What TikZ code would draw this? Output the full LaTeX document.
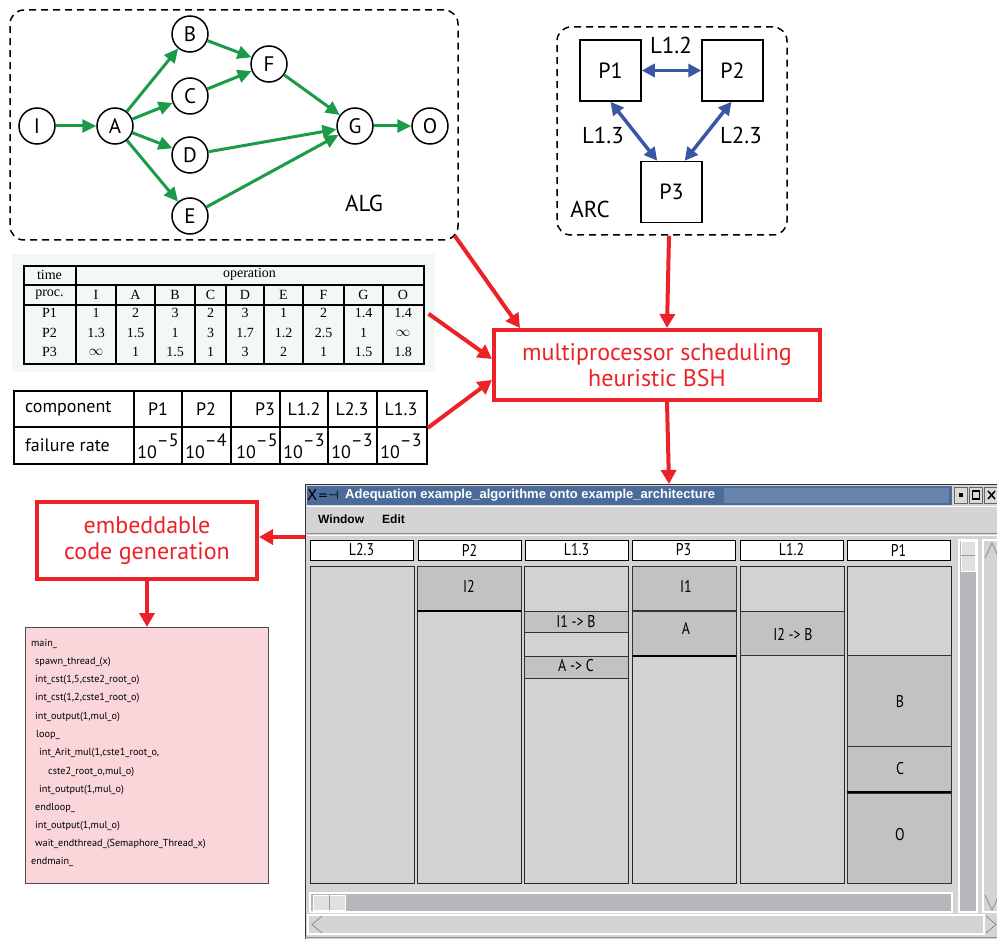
\documentclass[tikz,border=0pt]{standalone}
\usepackage{fontspec}
\setmainfont{PT Sans}
\newfontfamily\serifface{Liberation Serif}
\newfontfamily\uiface{Liberation Sans}
\newfontfamily\narrowface[FakeStretch=0.82]{PT Sans}
\newfontfamily\symface{DejaVu Sans}
\usetikzlibrary{arrows.meta,calc}
\definecolor{grn}{HTML}{1B9A48}
\definecolor{blu}{HTML}{3A56A5}
\definecolor{rd}{HTML}{EC2227}
\definecolor{tabbg}{HTML}{F2F8F3}
\definecolor{codebg}{HTML}{FAD6DA}
\definecolor{wingray}{HTML}{D4D4D4}
\definecolor{colgray}{HTML}{D1D2D4}
\definecolor{blkgray}{HTML}{C3C1C4}
\definecolor{titleblue}{HTML}{4B6B9A}
\definecolor{titledots}{HTML}{6884AD}
\definecolor{barshade}{HTML}{B5B7BB}
\newcommand\fsz[1]{\fontsize{#1}{#1}\selectfont}
\begin{document}
\begin{tikzpicture}[x=1pt,y=-1pt,
  vtx/.style={circle,draw,line width=1.5pt,minimum size=36pt,inner sep=0pt,font=\fsz{21}},
  pbox/.style={rectangle,draw,line width=1.5pt,minimum size=61pt,inner sep=0pt,font=\fsz{22}},
  dashbox/.style={rectangle,draw,line width=1.5pt,dash pattern=on 7pt off 5pt,rounded corners=14pt,inner sep=0pt},
  garr/.style={draw=grn,line width=3pt,-{Triangle[length=14pt,width=13pt]}},
  barr/.style={draw=blu,line width=3.5pt,{Triangle[length=13pt,width=13pt]}-{Triangle[length=13pt,width=13pt]}},
  rarr/.style={draw=rd,line width=4pt,-{Triangle[length=14pt,width=15pt]}},
  redbox/.style={rectangle,draw=rd,line width=4pt,text=rd,align=center,inner sep=0pt},
  lbl/.style={font=\fsz{23},inner sep=0pt},
  tcell/.style={font=\serifface\fsz{14},inner sep=0pt},
  fcell/.style={font=\fsz{18},inner sep=0pt},
  codeline/.style={font=\fsz{10.2},anchor=west,inner sep=0pt},
  hdcell/.style={draw=black,line width=0.8pt,fill=white,minimum width=103pt,minimum height=20pt,inner sep=0pt,font=\narrowface\fsz{17}},
  colbox/.style={draw=black!85,line width=1pt,fill=colgray},
  blk/.style={draw=black!80,line width=1pt,fill=blkgray},
  blktxt/.style={font=\narrowface\fsz{17},inner sep=0pt},
  uitxt/.style={font=\uiface\bfseries\fsz{12},inner sep=0pt,anchor=west}]
\useasboundingbox (0,0) rectangle (997,939);

% ---------------- algorithm graph ----------------
\node[dashbox,minimum width=448pt,minimum height=230pt] (alg) at (234,125) {};
\node[vtx] (I) at (37,126) {I};
\node[vtx] (A) at (115,126) {A};
\node[vtx] (B) at (190,34) {B};
\node[vtx] (C) at (190,96) {C};
\node[vtx] (D) at (190,155) {D};
\node[vtx] (E) at (190,216) {E};
\node[vtx] (F) at (269,64) {F};
\node[vtx] (G) at (355,126) {G};
\node[vtx] (O) at (430,126) {O};
\draw[garr] (I) -- (A);
\draw[garr] (A) -- (B);
\draw[garr] (A) -- (C);
\draw[garr] (A) -- (D);
\draw[garr] (A) -- (E);
\draw[garr] (B) -- (F);
\draw[garr] (C) -- (F);
\draw[garr] (F) -- (G);
\draw[garr] (D) -- (G);
\draw[garr] (E) -- (G);
\draw[garr] (G) -- (O);
\node[lbl] (alglbl) at (364,203) {ALG};

% ---------------- architecture graph ----------------
\node[dashbox,minimum width=230pt,minimum height=208pt] (arc) at (672,131) {};
\node[pbox] (P1) at (610.5,70.5) {P1};
\node[pbox] (P2) at (732.5,70.5) {P2};
\node[pbox] (P3) at (671.5,192) {P3};
\draw[barr] (P1) -- (P2);
\draw[barr] (P1.south) -- ($(P3.north west)+(17,0)$);
\draw[barr] ($(P2.south)+(-1,0)$) -- ($(P3.north east)+(-18,0)$);
\node[lbl] (l12) at (671,45) {L1.2};
\node[lbl] (l13) at (603,135) {L1.3};
\node[lbl] (l23) at (741,135) {L2.3};
\node[lbl] (arclbl) at (590,209) {ARC};

% ---------------- execution time table ----------------
\fill[tabbg] (12,254) rectangle (435,372);
\node[draw,line width=1.6pt,minimum width=400pt,minimum height=98pt,inner sep=0pt,anchor=north west] (tab1) at (23,265) {};
\draw[line width=1.6pt] (76,265) -- (76,363);
\draw[line width=1.6pt] (23,285) -- (423,285) (23,305) -- (423,305);
\foreach \xl in {116,155,195,226,264,303,344,383}
  \draw[line width=1.6pt] (\xl,285) -- (\xl,363);
\node[tcell] at (49.5,275) {time};
\node[tcell] at (249.5,274) {operation};
\node[tcell] at (49.5,295) {proc.};
\foreach \xc/\t in {96/I,135.5/A,175/B,210.5/C,245/D,283.5/E,323.5/F,363.5/G,403/O}
  \node[tcell] at (\xc,295) {\t};
\node[tcell] at (49.5,313) {P1};
\node[tcell] at (49.5,333) {P2};
\node[tcell] at (49.5,352) {P3};
\foreach \xc/\t in {96/1,135.5/2,175/3,210.5/2,245/3,283.5/1,323.5/2,363.5/1.4,403/1.4}
  \node[tcell] at (\xc,313) {\t};
\foreach \xc/\t in {96/1.3,135.5/1.5,175/1,210.5/3,245/1.7,283.5/1.2,323.5/2.5,363.5/1,403/$\infty$}
  \node[tcell] at (\xc,333) {\t};
\foreach \xc/\t in {96/$\infty$,135.5/1,175/1.5,210.5/1,245/3,283.5/2,323.5/1,363.5/1.5,403/1.8}
  \node[tcell] at (\xc,352) {\t};

% ---------------- failure rate table ----------------
\node[draw,line width=1.8pt,minimum width=413pt,minimum height=73pt,inner sep=0pt,anchor=north west] (tab2) at (13,390) {};
\draw[line width=1.8pt] (13,427) -- (426,427);
\foreach \xl in {134,182,231,280,328,377}
  \draw[line width=1.8pt] (\xl,390) -- (\xl,463);
\node[fcell,anchor=west] at (25,409) {component};
\node[fcell,anchor=west] at (25,445) {failure rate};
\foreach \xc/\t in {158/P1,206/P2,265/P3,304/L1.2,352/L2.3,401/L1.3}
  \node[fcell] at (\xc,409) {\t};
\foreach \xc/\e in {158/5,206/4,257/5,304/3,352/3,401/3}
  \node[fcell,anchor=base] at (\xc,458) {10\raisebox{0.62em}{–\e}};

% ---------------- scheduling heuristic ----------------
\node[redbox,minimum width=326pt,minimum height=70pt,font=\fsz{24}] (bsh) at (657,365)
  {multiprocessor scheduling\\[2pt]heuristic BSH};
\draw[rarr] ($(alg.south east)+(-4,-5)$) -- ($(bsh.north west)+(28,0)$);
\draw[rarr] ($(arc.south)+(-3,0)$) -- ($(bsh.north west)+(175,0)$);
\draw[rarr] ($(tab1.east)+(4,-1)$) -- ($(bsh.west)+(0,-6)$);
\draw[rarr] ($(tab2.east)+(0,0.5)$) -- ($(bsh.west)+(0,15)$);

% ---------------- adequation window ----------------
\coordinate (wintop) at (669,484);
\coordinate (winleft) at (305,537);
\fill[wingray] (305,484) rectangle (997,939);
\draw[black!80,line width=1.5pt] (305.5,939) -- (305.5,484.5) -- (997,484.5);
% title bar
\fill[titleblue] (307,486) rectangle (952,505);
\fill[titledots] (724,488) rectangle (949,503);
\node[inner sep=0pt,anchor=west,font=\symface\fsz{15}] (xicon) at (307,495) {X};
\node[inner sep=0pt,anchor=west,font=\symface\fsz{12}] (pin) at (318,495) {=⊣};
\node[uitxt,text=white,font=\uiface\bfseries\fsz{13}] (wtitle) at (345,495.5) {Adequation example\_algorithme onto example\_architecture};
\foreach \bx in {954,969,984}
  \draw[black!60,fill=black!15,line width=0.6pt] (\bx,487) rectangle ++(13,16);
\fill[black] (958.5,493) rectangle (962.5,497);
\draw[black,line width=1.5pt] (972.5,491) rectangle (979.5,499);
\draw[black,line width=1.5pt] (988,491) -- (995,499) (988,499) -- (995,491);
% menu bar
\draw[white,line width=1pt] (307,506) -- (997,506);
\draw[black!45,line width=1pt] (307,533) -- (997,533);
\draw[white,line width=1pt] (307,535) -- (997,535);
\node[uitxt,font=\uiface\bfseries\fsz{12}] (mwin) at (318,519.5) {Window};
\node[uitxt,font=\uiface\bfseries\fsz{12}] (medit) at (382,519.5) {Edit};
% column headers
\node[hdcell] (h1) at (361.5,550) {L2.3};
\node[hdcell] (h2) at (469.5,550) {P2};
\node[hdcell] (h3) at (576.5,550) {L1.3};
\node[hdcell] (h4) at (683.5,550) {P3};
\node[hdcell] (h5) at (791.5,550) {L1.2};
\node[hdcell] (h6) at (898.5,550) {P1};
% columns
\foreach \xl in {310,417,524,632,740,847}
  \draw[colbox] (\xl,566) rectangle ++(104,317);
% scheduled blocks
\draw[blk] (417,566) rectangle (521,610);
\draw[line width=2.2pt] (417,611) -- (521,611);
\node[blktxt] at (469,586) {I2};
\draw[blk] (524,611) rectangle (628,632);
\node[blktxt] at (576,622) {I1 -{}> B};
\draw[blk] (524,656) rectangle (628,678);
\node[blktxt] at (576,666) {A -{}> C};
\draw[blk] (632,566) rectangle (736,610);
\node[blktxt] at (686,586) {I1};
\draw[blk] (632,611) rectangle (736,655);
\draw[line width=2.2pt] (632,656) -- (736,656);
\node[blktxt] at (686,628) {A};
\draw[blk] (740,611) rectangle (844,655);
\node[blktxt] at (793,635) {I2 -{}> B};
\draw[blk] (847,655) rectangle (951,746);
\node[blktxt] at (900,702) {B};
\draw[blk] (847,746) rectangle (951,792);
\draw[line width=2.2pt] (847,792) -- (951,792);
\node[blktxt] at (900,769) {C};
\draw[blk] (847,793) rectangle (951,883);
\node[blktxt] at (900,835) {O};
% horizontal scrollbar
\draw[fill=barshade,draw=white,line width=1.2pt] (310,893) rectangle (952,912);
\draw[fill=black!12,draw=white,line width=1pt] (313,895) rectangle (345,910);
\draw[black!40,line width=0.8pt] (329,895) -- (329,910);
\draw[fill=black!17,draw=white,line width=1.2pt] (308,915) rectangle (984,934);
\draw[black!45,line width=0.8pt] (322,916) -- (312,924.5) -- (322,933);
\draw[black!45,line width=0.8pt] (986,916) -- (996,924.5) -- (986,933);
\draw[black!45,line width=1pt] (305,937) -- (997,937);
% vertical scrollbars
\draw[fill=barshade,draw=white,line width=1.2pt] (959,540) rectangle (977,912);
\draw[fill=black!12,draw=white,line width=1pt] (961,541) rectangle (975,571);
\draw[black!40,line width=0.8pt] (961,555) -- (975,555);
\draw[fill=black!17,draw=white,line width=1.2pt] (983,540) rectangle (999,912);
\draw[black!45,line width=0.8pt] (985,558) -- (992,543) -- (999,558);
\draw[black!45,line width=0.8pt] (985,895) -- (992,910) -- (999,895);
% arrow into the window
\draw[rarr] ($(bsh.south west)+(175,0)$) -- (wintop);

% ---------------- code generation ----------------
\node[redbox,minimum width=220pt,minimum height=77pt,font=\fsz{24}] (emb) at (147,540.5)
  {embeddable\\[2pt]code generation};
\draw[rarr] (winleft) -- (winleft -| emb.east);
\node[draw=black!70,fill=codebg,line width=1.2pt,minimum width=243pt,minimum height=256pt,inner sep=0pt,anchor=north west] (code) at (25,627) {};
\draw[rarr] (emb.south) -- (emb.south |- code.north);
\node[codeline] at (31,644) {main\_};
\node[codeline] at (35,662) {spawn\_thread\_(x)};
\node[codeline] at (35,680) {int\_cst(1,5,cste2\_root\_o)};
\node[codeline] at (35,698) {int\_cst(1,2,cste1\_root\_o)};
\node[codeline] at (35,717) {int\_output(1,mul\_o)};
\node[codeline] at (36,735) {loop\_};
\node[codeline] at (39,753) {int\_Arit\_mul(1,cste1\_root\_o,};
\node[codeline] at (48,772) {cste2\_root\_o,mul\_o)};
\node[codeline] at (39,790) {int\_output(1,mul\_o)};
\node[codeline] at (35,808) {endloop\_};
\node[codeline] at (35,826) {int\_output(1,mul\_o)};
\node[codeline] at (35,844) {wait\_endthread\_(Semaphore\_Thread\_x)};
\node[codeline] at (31,862) {endmain\_};
\end{tikzpicture}
\end{document}
